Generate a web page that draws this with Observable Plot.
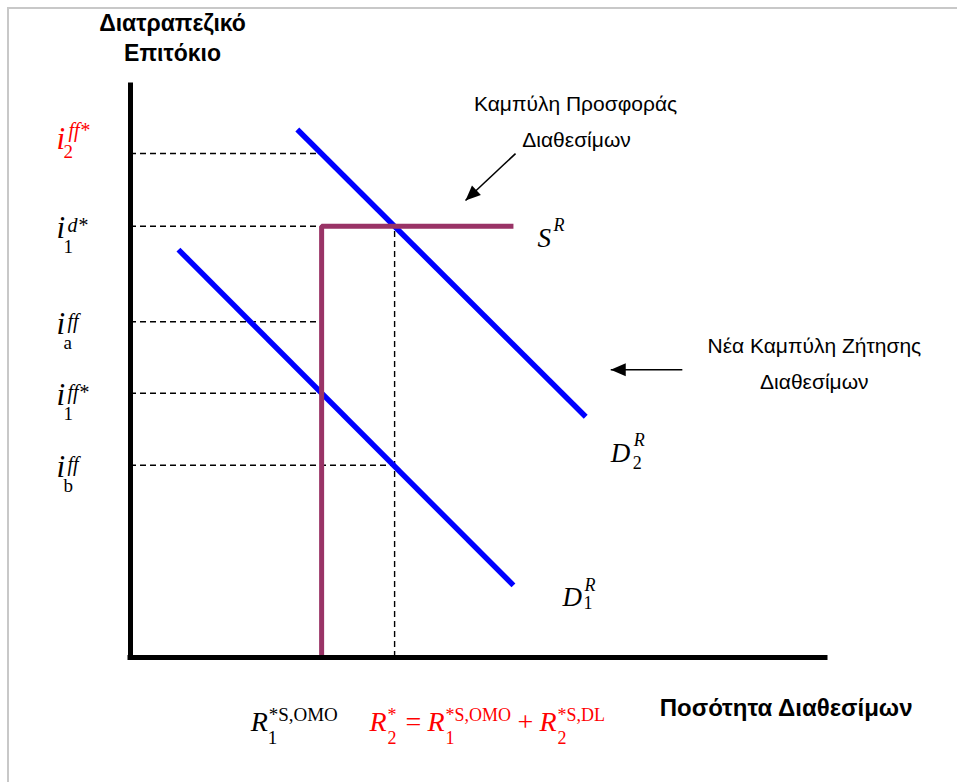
<!DOCTYPE html>
<html><head><meta charset="utf-8">
<script src="https://cdn.jsdelivr.net/npm/d3@7"></script>
<script src="https://cdn.jsdelivr.net/npm/@observablehq/plot@0.6"></script>
<style>
html,body{margin:0;padding:0;background:#fff;}
#wrap{position:relative;width:957px;height:782px;overflow:hidden;}
#frame{position:absolute;left:7px;top:7px;width:980px;height:800px;border-left:2px solid #c8c8c8;border-top:2px solid #c8c8c8;pointer-events:none;}
#wrap svg{position:absolute;left:0;top:0;}
</style></head><body><div id="wrap"><div id="frame"></div></div>
<script>
// ---------- data (schematic units: quantity 0..100, rate 0..100) ----------
const rateLevels    = [88.1, 75.4, 58.7, 46.2, 33.6];
const rateBase      = ["i", "i", "i", "i", "i"];
const rateSup       = ["ff*", "d*", "ff", "ff*", "ff"];
const rateSub       = ["2", "1", "a", "1", "b"];
const rateHighlight = [true, false, false, false, false];

const demandNames = ["D1", "D2"];
const demandQ     = [[6.9, 55.1], [24.0, 65.5]];
const demandRate  = [[71.3, 12.6], [92.3, 42.1]];
const demandSub   = ["1", "2"];

const qOMO   = 27.5;   // R1*S,OMO
const qTotal = 38.0;   // R2*
const supplyQ    = [qOMO, qOMO, 55.1];
const supplyRate = [0, 75.4, 75.4];
const guideEnd   = [qOMO, qOMO, qOMO, qOMO, qTotal];

const yTitle = ["Διατραπεζικό", "Επιτόκιο"];
const xTitle = "Ποσότητα Διαθεσίμων";
const supplyNote = ["Καμπύλη Προσφοράς", "Διαθεσίμων"];
const demandNote = ["Νέα Καμπύλη Ζήτησης", "Διαθεσίμων"];
const supplyLabel = ["S", "R"];
const omoLabel = ["R", "1", "*S,OMO"];
const totalLabel = ["R", "2", "*", "=", "R", "1", "*S,OMO", "+", "R", "2", "*S,DL"];

// annotation arrows (tail -> tip)
const noteArrows = [
  {x1: 55.4, y1: 88.1, x2: 48.2, y2: 79.9},
  {x1: 79.4, y1: 50.3, x2: 69.1, y2: 50.3}
];

// ---------- build ----------
const X = {domain: [0, 100], range: [130, 825]};
const Y = {domain: [0, 100], range: [657, 85]};
const xs = d3.scaleLinear(X.domain, X.range), ys = d3.scaleLinear(Y.domain, Y.range);

const serif = "'Liberation Serif','Times New Roman',serif";
const sans = "'Liberation Sans',Arial,sans-serif";
const RED = "#ff0000", BLUE = "#0000ff", PURPLE = "#993366";

const rates = rateLevels.map((v, i) => ({level: v, base: rateBase[i], sup: rateSup[i], sub: rateSub[i], hi: rateHighlight[i], end: guideEnd[i]}));
const black = rates.filter(d => !d.hi), red = rates.filter(d => d.hi);

const demand = demandNames.flatMap((n, i) => demandQ[i].map((q, j) => ({name: n, q, r: demandRate[i][j]})));
const demandEnds = demandNames.map((n, i) => ({name: n, q: demandQ[i][1], r: demandRate[i][1], sub: demandSub[i]}));
const supply = supplyQ.map((q, i) => ({q, r: supplyRate[i]}));

function T(data, o) {
  return Plot.text(data, {lineAnchor: "bottom", textAnchor: "start", fontFamily: serif, fontStyle: "italic", fontSize: 27, fill: "black", ...o});
}
function S(data, o) {
  return Plot.text(data, {lineAnchor: "bottom", textAnchor: "middle", fontFamily: sans, fontSize: 21, fill: "black", text: d => d, ...o});
}
const zero = () => 0;

function headSymbol(a) {
  const dx = xs(a.x2) - xs(a.x1), dy = ys(a.y2) - ys(a.y1), L = Math.hypot(dx, dy);
  const ux = dx / L, uy = dy / L, len = 15, half = 6.5;
  return {draw(ctx) {
    const bx = -ux * len, by = -uy * len, px = -uy * half, py = ux * half;
    ctx.moveTo(0, 0); ctx.lineTo(bx + px, by + py); ctx.lineTo(bx - px, by - py); ctx.closePath();
  }};
}

const omoAt = [{q: qOMO, r: 0}], totAt = [{q: qTotal, r: 0}];
const totalDx = [-25, -7, -7, 11, 33, 51, 51, 123, 145, 163, 163];
const totalKind = ["b", "s", "p", "o", "b", "s", "p", "o", "b", "s", "p"];
const a0 = [noteArrows[0]], a1 = [noteArrows[1]];

const marks = [
  // dashed guides
  Plot.ruleY(rates, {y: "level", x1: zero, x2: "end", stroke: "black", strokeWidth: 1.4, strokeDasharray: "6,4"}),
  Plot.ruleX([qTotal], {x: d => d, y1: zero, y2: () => supplyRate[1], stroke: "black", strokeWidth: 1.4, strokeDasharray: "6,4"}),
  // demand curves
  Plot.line(demand, {x: "q", y: "r", z: "name", stroke: BLUE, strokeWidth: 5.5, strokeLinecap: "butt"}),
  // supply curve
  Plot.line(supply, {x: "q", y: "r", stroke: PURPLE, strokeWidth: 5, strokeLinejoin: "miter", strokeLinecap: "butt"}),
  // axes
  Plot.ruleX([0], {y1: 0, y2: 100, stroke: "black", strokeWidth: 5, strokeLinecap: "square"}),
  Plot.ruleY([0], {x1: 0, x2: 100, stroke: "black", strokeWidth: 5, strokeLinecap: "square"}),
  // annotation arrows
  Plot.link(noteArrows, {x1: "x1", y1: "y1", x2: "x2", y2: "y2", stroke: "black", strokeWidth: 1.6}),
  ...noteArrows.map(a => Plot.dot([a], {x: "x2", y: "y2", r: 5, symbol: headSymbol(a), fill: "black", stroke: "none"})),
  // axis titles
  S([yTitle[0]], {x: zero, y: () => 100, dx: 42, dy: -55, fontWeight: "bold", fontSize: 23}),
  S([yTitle[1]], {x: zero, y: () => 100, dx: 42, dy: -25, fontWeight: "bold", fontSize: 23}),
  S([xTitle], {x: () => 100, y: zero, dx: 87, dy: 58, textAnchor: "end", fontWeight: "bold", fontSize: 24}),
  // notes
  S([supplyNote[0]], {x: () => a0[0].x1, y: () => a0[0].y1, dx: 60, dy: -43}),
  S([supplyNote[1]], {x: () => a0[0].x1, y: () => a0[0].y1, dx: 61, dy: -7}),
  S([demandNote[0]], {x: () => a1[0].x1, y: () => a1[0].y1, dx: 132, dy: -17}),
  S([demandNote[1]], {x: () => a1[0].x1, y: () => a1[0].y1, dx: 132, dy: 19}),
  // rate labels (black)
  T(black, {x: zero, y: "level", text: "base", dx: -74, dy: 12, fontSize: 31}),
  T(black, {x: zero, y: "level", text: "sup", dx: -63, dy: 6, fontSize: 20}),
  T(black, {x: zero, y: "level", text: "sub", dx: -67, dy: 27, fontSize: 19, fontStyle: d => /\d/.test(d.sub) ? "normal" : "italic"}),
  // rate label (red)
  T(red, {x: zero, y: "level", text: "base", dx: -74, dy: -5, fontSize: 31, fill: RED}),
  T(red, {x: zero, y: "level", text: "sup", dx: -62, dy: -17, fontSize: 20, fill: RED}),
  T(red, {x: zero, y: "level", text: "sub", dx: -67, dy: 4, fontSize: 19, fontStyle: "normal", fill: RED}),
  // supply label
  T([{q: supplyQ[2], r: supplyRate[2]}], {x: "q", y: "r", text: () => supplyLabel[0], dx: 24, dy: 21}),
  T([{q: supplyQ[2], r: supplyRate[2]}], {x: "q", y: "r", text: () => supplyLabel[1], dx: 40, dy: 5, fontSize: 18}),
  // demand labels
  T(demandEnds.filter(d => d.name === "D2"), {x: "q", y: "r", text: () => "D", dx: 25, dy: 45}),
  T(demandEnds.filter(d => d.name === "D2"), {x: "q", y: "r", text: () => "R", dx: 48, dy: 29, fontSize: 18}),
  T(demandEnds.filter(d => d.name === "D2"), {x: "q", y: "r", text: "sub", dx: 47, dy: 52, fontSize: 18, fontStyle: "normal"}),
  T(demandEnds.filter(d => d.name === "D1"), {x: "q", y: "r", text: () => "D", dx: 49, dy: 21}),
  T(demandEnds.filter(d => d.name === "D1"), {x: "q", y: "r", text: () => "R", dx: 71, dy: 6, fontSize: 18}),
  T(demandEnds.filter(d => d.name === "D1"), {x: "q", y: "r", text: "sub", dx: 70, dy: 24, fontSize: 18, fontStyle: "normal"}),
  // OMO quantity label
  T(omoAt, {x: "q", y: "r", text: () => omoLabel[0], dx: -71, dy: 73, fontSize: 28}),
  T(omoAt, {x: "q", y: "r", text: () => omoLabel[1], dx: -54, dy: 86, fontSize: 19, fontStyle: "normal"}),
  T(omoAt, {x: "q", y: "r", text: () => omoLabel[2], dx: -53, dy: 63, fontSize: 19, fontStyle: "normal"}),
  // total quantity label (red)
  ...totalLabel.map((s, i) => {
    const k = totalKind[i];
    return T(totAt, {x: "q", y: "r", text: () => s, dx: totalDx[i], fill: RED,
      dy: k === "s" ? 86 : k === "p" ? 63 : 73,
      fontSize: (k === "s" || k === "p") ? 18 : 28,
      fontStyle: (k === "b") ? "italic" : "normal"});
  })
];

const chart = Plot.plot({
  width: 957, height: 782, margin: 0,
  x: {...X, axis: null}, y: {...Y, axis: null},
  style: {background: "transparent", overflow: "visible"},
  marks
});
document.getElementById("wrap").insertBefore(chart, document.getElementById("frame"));
</script></body></html>
